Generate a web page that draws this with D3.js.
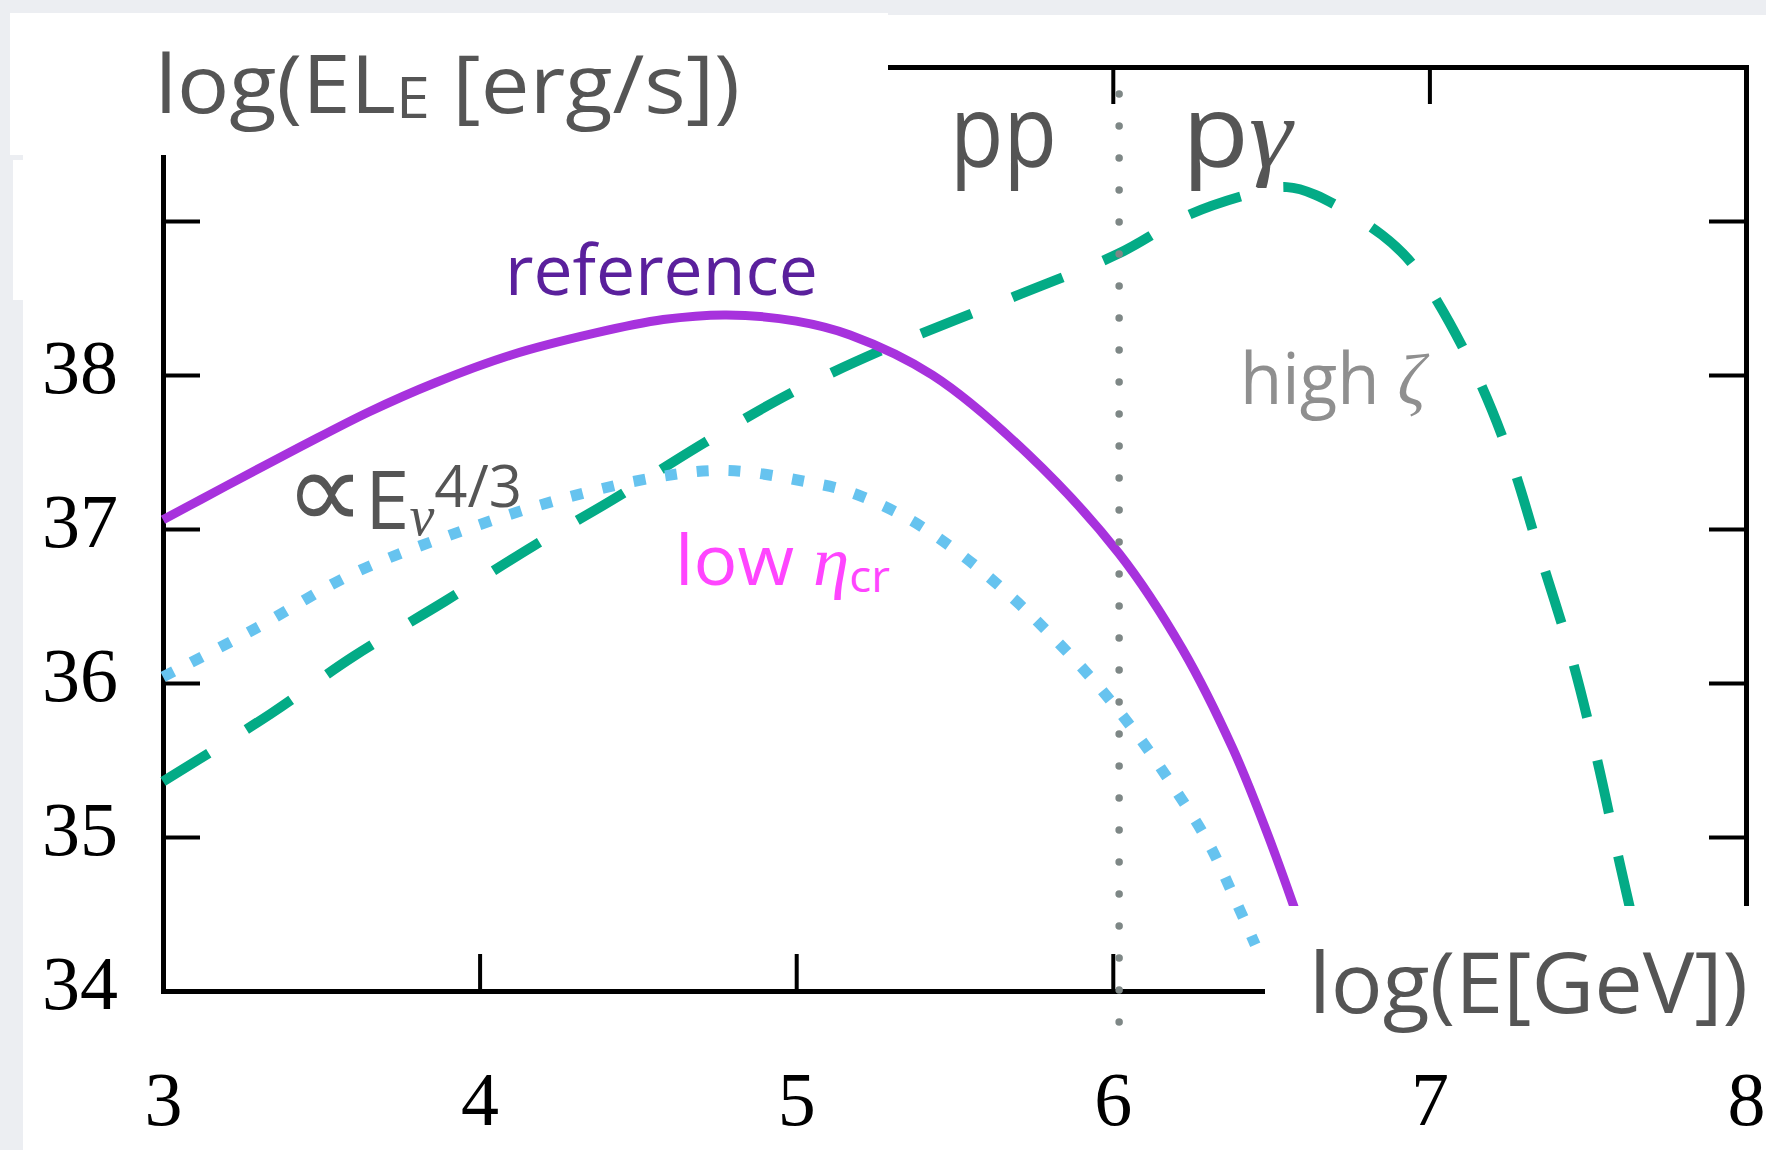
<!DOCTYPE html>
<html>
<head>
<meta charset="utf-8">
<script src="https://cdn.jsdelivr.net/npm/d3@7"></script>
<style>
  html, body { margin: 0; padding: 0; background: #eceef2; }
  svg { display: block; }
</style>
</head>
<body>
<script>
// Axis ticks and labels
var xTicks = [3, 4, 5, 6, 7, 8];
var yTicks = [34, 35, 36, 37, 38, 39, 40];
var yTickLabels = [34, 35, 36, 37, 38];
var ppBoundary = 6.02; // pp / p-gamma dividing line

// "reference" curve (log E [GeV], log EL_E [erg/s])
var refE = [3.0, 3.2, 3.44, 3.65, 3.86, 4.1, 4.36, 4.58, 4.78, 5.0, 5.17, 5.43, 5.73, 6.02, 6.22, 6.38, 6.485, 6.57, 6.65];
var refL = [37.06, 37.28, 37.54, 37.76, 37.95, 38.13, 38.27, 38.36, 38.39, 38.35, 38.26, 38.0, 37.49, 36.84, 36.22, 35.57, 35.04, 34.56, 34.08];

// "low eta_cr" curve
var lowEtaE = [3.0, 3.28, 3.6, 3.92, 4.25, 4.57, 4.78, 5.05, 5.17, 5.36, 5.53, 5.685, 5.81, 5.95, 6.075, 6.19, 6.3, 6.385, 6.45];
var lowEtaL = [36.04, 36.34, 36.71, 36.97, 37.19, 37.34, 37.38, 37.3, 37.24, 37.06, 36.82, 36.55, 36.3, 35.99, 35.67, 35.33, 34.97, 34.6, 34.3];

// "high zeta" curve
var highZetaE = [3.0, 3.34, 3.6, 3.89, 4.17, 4.42, 4.71, 4.99, 5.28, 5.69, 6.02, 6.24, 6.46, 6.55, 6.64, 6.85, 6.95, 7.13, 7.25, 7.35, 7.45, 7.53, 7.6, 7.66];
var highZetaL = [35.36, 35.8, 36.17, 36.53, 36.89, 37.19, 37.56, 37.89, 38.17, 38.51, 38.79, 39.04, 39.19, 39.22, 39.17, 38.91, 38.71, 38.08, 37.49, 36.83, 36.16, 35.5, 34.84, 34.3];

var w = 1766, h = 1150;

var svg = d3.select("body").append("svg")
    .attr("width", w)
    .attr("height", h);

// slide background and white panels
svg.append("rect").attr("width", w).attr("height", h).attr("fill", "#eceef2");
svg.append("rect").attr("x", 23).attr("y", 15).attr("width", w - 23).attr("height", h - 15).attr("fill", "#fff");
svg.append("rect").attr("x", 13).attr("y", 160).attr("width", 120).attr("height", 140).attr("fill", "#fff");

var x = d3.scaleLinear().domain([3, 8]).range([163, 1746]);
var y = d3.scaleLinear().domain([34, 40]).range([991, 67]);

// frame with inward ticks
function frame(g) {
    g.select(".domain").attr("stroke", "#000").attr("stroke-width", 5).attr("stroke-linecap", "square");
    g.selectAll(".tick line").attr("stroke", "#000").attr("stroke-width", 4);
}
svg.append("g").attr("transform", "translate(163,0)")
    .call(d3.axisLeft(y).tickValues(yTicks).tickSizeInner(-37).tickSizeOuter(0).tickFormat(""))
    .call(frame);
svg.append("g").attr("transform", "translate(1746,0)")
    .call(d3.axisRight(y).tickValues(yTicks).tickSizeInner(-37).tickSizeOuter(0).tickFormat(""))
    .call(frame);
svg.append("g").attr("transform", "translate(0,991)")
    .call(d3.axisBottom(x).tickValues(xTicks).tickSizeInner(-37).tickSizeOuter(0).tickFormat(""))
    .call(frame);
svg.append("g").attr("transform", "translate(0,67)")
    .call(d3.axisTop(x).tickValues(xTicks).tickSizeInner(-37).tickSizeOuter(0).tickFormat(""))
    .call(frame);

// curves
var line = d3.line()
    .x(function(d){ return x(d[0]); })
    .y(function(d){ return y(d[1]); })
    .curve(d3.curveCatmullRom.alpha(0.5));

svg.append("path")
    .attr("d", line(d3.zip(highZetaE, highZetaL)))
    .attr("fill", "none")
    .attr("stroke", "#03ab86")
    .attr("stroke-width", 10)
    .attr("stroke-dasharray", "54,44");

svg.append("path")
    .attr("d", line(d3.zip(lowEtaE, lowEtaL)))
    .attr("fill", "none")
    .attr("stroke", "#66c3ef")
    .attr("stroke-width", 11)
    .attr("stroke-dasharray", "12,20");

svg.append("path")
    .attr("d", line(d3.zip(refE, refL)))
    .attr("fill", "none")
    .attr("stroke", "#a732dd")
    .attr("stroke-width", 9);

// pp / p-gamma boundary
svg.append("line")
    .attr("x1", x(ppBoundary)).attr("x2", x(ppBoundary))
    .attr("y1", 94).attr("y2", 1024)
    .attr("stroke", "#7e8786")
    .attr("stroke-width", 7.5)
    .attr("stroke-linecap", "round")
    .attr("stroke-dasharray", "0,32");

// white boxes behind the axis titles
svg.append("rect").attr("x", 10).attr("y", 13).attr("width", 878).attr("height", 142).attr("fill", "#fff");
svg.append("rect").attr("x", 1265).attr("y", 906).attr("width", w - 1265).attr("height", h - 906).attr("fill", "#fff");

// tick labels
var serif = "'Liberation Serif', 'Times New Roman', serif";
var yLabels = svg.append("g").attr("transform", "translate(163,0)")
    .call(d3.axisLeft(y).tickValues(yTickLabels).tickSize(0).tickPadding(45).tickFormat(d3.format("d")));
yLabels.select(".domain").remove();
yLabels.selectAll("text").attr("dy", "0.23em").attr("fill", "#000")
    .style("font-family", serif).style("font-size", "76px");

var xLabels = svg.append("g").attr("transform", "translate(0,991)")
    .call(d3.axisBottom(x).tickValues(xTicks).tickSize(0).tickPadding(80).tickFormat(d3.format("d")));
xLabels.select(".domain").remove();
xLabels.selectAll("text").attr("fill", "#000")
    .style("font-family", serif).style("font-size", "76px");

// text helpers
var sans = "'Open Sans', 'Noto Sans', sans-serif";
function label(baseline, size, color) {
    return svg.append("text")
        .attr("x", 0).attr("y", baseline)
        .attr("fill", color)
        .style("font-family", sans)
        .style("font-size", size + "px");
}
function fitText(t, left, width) {
    var b = t.node().getBBox();
    var s = width / b.width;
    t.attr("transform", "translate(" + left + ",0) scale(" + s + ",1) translate(" + (-b.x) + ",0)");
}

// y title
var yTitle = label(113, 80, "#555");
yTitle.append("tspan").text("log(EL");
yTitle.append("tspan").attr("font-size", "56px").attr("dy", 5).text("E");
yTitle.append("tspan").attr("dy", -5).text(" [erg/s])");
fitText(yTitle, 155, 585);

// x title
var xTitle = label(1013, 85, "#555").text("log(E[GeV])");
fitText(xTitle, 1309, 439);

// region labels
var pp = label(167, 100, "#555").text("pp");
fitText(pp, 950, 107);
var pg = label(167, 100, "#555");
pg.append("tspan").text("p");
pg.append("tspan").style("font-family", serif).attr("font-style", "italic").text("γ");
fitText(pg, 1182, 113);

// curve labels
var refLab = label(295, 70, "#5a209c").text("reference");
fitText(refLab, 505, 313);

var slope = label(529, 80, "#555");
slope.append("tspan").style("font-family", "'DejaVu Sans ExtraLight', 'DejaVu Sans', sans-serif")
    .attr("font-weight", 200).attr("font-size", "112px").text("∝");
slope.append("tspan").text("E");
slope.append("tspan").style("font-family", serif).attr("font-style", "italic")
    .attr("font-size", "56px").attr("dy", 6).text("ν");
slope.append("tspan").attr("font-size", "58px").attr("dy", -28).text("4/3");
fitText(slope, 285, 237);

var lowLab = label(585, 70, "#ff45ff");
lowLab.append("tspan").text("low ");
lowLab.append("tspan").style("font-family", serif).attr("font-style", "italic").text("η");
lowLab.append("tspan").attr("font-size", "44px").attr("dy", 7).text("cr");
fitText(lowLab, 675, 215);

var highLab = label(404, 72, "#8f8f8f");
highLab.append("tspan").text("high ");
highLab.append("tspan").style("font-family", serif).attr("font-style", "italic").text("ζ");
fitText(highLab, 1240, 190);
</script>
</body>
</html>
